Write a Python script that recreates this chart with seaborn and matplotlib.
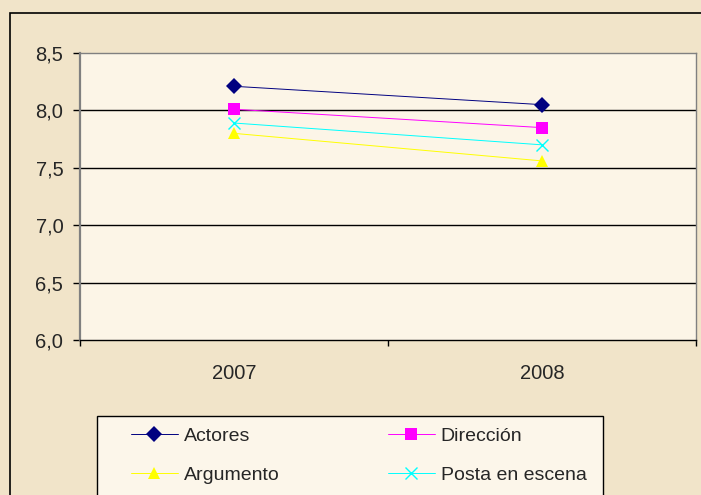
import numpy as np
import pandas as pd
import matplotlib
matplotlib.use("Agg")
import matplotlib.pyplot as plt
from matplotlib.patches import Rectangle
from matplotlib.lines import Line2D
import seaborn as sns

years = ["2007", "2008"]
actores = [8.21, 8.05]
direccion = [8.01, 7.85]
argumento = [7.80, 7.56]
posta = [7.89, 7.70]

series_names = ["Actores", "Dirección", "Argumento", "Posta en escena"]
colors = {"Actores": "#000080", "Dirección": "#FF00FF",
          "Argumento": "#FFFF00", "Posta en escena": "#00FFFF"}
markers = {"Actores": "D", "Dirección": "s", "Argumento": "^", "Posta en escena": "x"}
msizes = {"Actores": 8, "Dirección": 8, "Argumento": 9, "Posta en escena": 9}

rows = []
for name, vals in zip(series_names, [actores, direccion, argumento, posta]):
    for i, v in enumerate(vals):
        rows.append([name, i + 0.5, v])
df = pd.DataFrame(rows, columns=["serie", "x", "valor"])

sns.set_style("white")
plt.rcParams["font.family"] = ["Liberation Sans", "DejaVu Sans"]

fig = plt.figure(figsize=(7.01, 4.95), dpi=100)
fig.patch.set_facecolor("#F1E4C9")
W, H = 701, 495
ax = fig.add_axes([80 / W, (H - 340) / H, 616 / W, 287 / H])
ax.set_facecolor("#FCF5E7")

# outer frame
fig.patches.append(Rectangle((10 / W, -0.1), 1.0, (H - 13) / H + 0.1,
                             transform=fig.transFigure, fill=False,
                             edgecolor="black", linewidth=1.2))
# legend frame
fig.patches.append(Rectangle((97 / W, -0.1), 506 / W, (H - 416) / H + 0.1,
                             transform=fig.transFigure, fill=True,
                             facecolor="#FCF6EA", edgecolor="black",
                             linewidth=1.0))

for y in [6.5, 7.0, 7.5, 8.0]:
    ax.axhline(y, color="black", linewidth=1.0, zorder=1)

for name in series_names:
    sub = df[df["serie"] == name]
    is_x = markers[name] == "x"
    sns.lineplot(data=sub, x="x", y="valor", color=colors[name],
                 marker=markers[name], markersize=msizes[name],
                 markeredgewidth=1.0 if is_x else 0,
                 markeredgecolor=colors[name],
                 linewidth=0.7, ax=ax, zorder=3)

ax.set_xlim(0, 2)
ax.set_ylim(6.0, 8.5)
ax.set_yticks([6.0, 6.5, 7.0, 7.5, 8.0, 8.5])
ax.set_yticklabels(["6,0", "6,5", "7,0", "7,5", "8,0", "8,5"])
ax.set_xticks([0, 1, 2])
ax.set_xticklabels([])
ax.set_xticks([0.5, 1.5], minor=True)
ax.set_xticklabels(years, minor=True)
ax.tick_params(axis="x", which="minor", bottom=False, length=0, pad=17, labelsize=14.5)
ax.tick_params(axis="x", which="major", bottom=True, length=4, width=1,
               color="black", direction="out")
ax.tick_params(axis="y", left=True, length=5, width=1, color="black",
               direction="out", pad=7, labelsize=14.5)
ax.set_xlabel("")
ax.set_ylabel("")

for side in ["top", "right"]:
    ax.spines[side].set_color("#808080")
    ax.spines[side].set_linewidth(1.0)
ax.spines["left"].set_color("#808080")
ax.spines["left"].set_linewidth(1.6)
ax.spines["bottom"].set_color("black")
ax.spines["bottom"].set_linewidth(1.0)

handles = {}
for name in series_names:
    handles[name] = Line2D([], [], color=colors[name], marker=markers[name],
                           linewidth=0.7, markersize=msizes[name],
                           markeredgewidth=1.0 if markers[name] == "x" else 0)
order = ["Actores", "Argumento", "Dirección", "Posta en escena"]
leg = fig.legend([handles[n] for n in order], order, ncol=2,
                 loc="upper left", bbox_to_anchor=(131 / W, (H - 427) / H),
                 frameon=False, fontsize=14, borderpad=0, borderaxespad=0,
                 handlelength=2.4, handletextpad=0.3, columnspacing=5.6,
                 labelspacing=1.1)

fig.savefig("out.png", dpi=100, facecolor=fig.get_facecolor())
